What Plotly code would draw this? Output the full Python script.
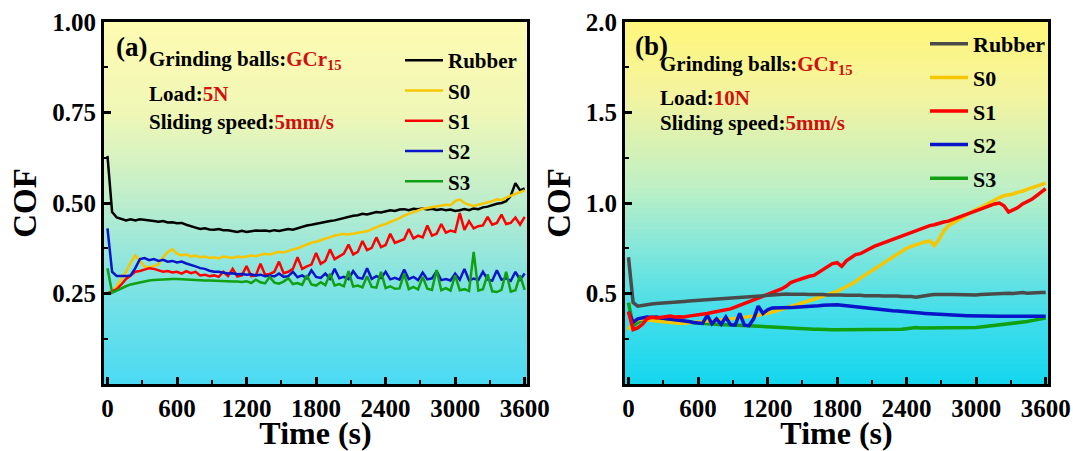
import plotly.graph_objects as go

# ---------------- data ----------------
time_s = list(range(0, 3601, 40))  # sampling times, 91 points

# panel (a): load 5 N
a_rubber = [0.63, 0.475, 0.46, 0.455, 0.452, 0.455, 0.452, 0.455, 0.454, 0.452,
            0.45, 0.448, 0.45, 0.446, 0.447, 0.444, 0.445, 0.44, 0.435, 0.432,
            0.428, 0.43, 0.427, 0.426, 0.428, 0.425, 0.425, 0.422, 0.42, 0.423,
            0.42, 0.422, 0.424, 0.423, 0.424, 0.422, 0.425, 0.423, 0.426, 0.428,
            0.426, 0.43, 0.435, 0.438, 0.44, 0.443, 0.445, 0.447, 0.45, 0.452,
            0.455, 0.46, 0.462, 0.465, 0.466, 0.47, 0.468, 0.472, 0.475, 0.474,
            0.478, 0.48, 0.478, 0.482, 0.483, 0.48, 0.484, 0.483, 0.485, 0.482,
            0.484, 0.481, 0.483, 0.48, 0.482, 0.478, 0.48, 0.483, 0.48, 0.485,
            0.483, 0.488, 0.49, 0.495, 0.498, 0.50, 0.505, 0.52, 0.555, 0.535,
            0.54]
a_s0 = [0.25, 0.255, 0.27, 0.29, 0.31, 0.335, 0.355, 0.34, 0.325, 0.322,
        0.325, 0.33, 0.35, 0.365, 0.372, 0.36, 0.355, 0.358, 0.352, 0.355,
        0.35, 0.352, 0.348, 0.35, 0.347, 0.352, 0.35, 0.348, 0.352, 0.35,
        0.352, 0.355, 0.353, 0.356, 0.36, 0.358, 0.362, 0.365, 0.363, 0.368,
        0.372, 0.375, 0.38, 0.386, 0.39, 0.393, 0.398, 0.402, 0.405, 0.41,
        0.412, 0.414, 0.413, 0.416, 0.418, 0.42, 0.422, 0.428, 0.432, 0.438,
        0.442, 0.447, 0.452, 0.458, 0.465, 0.47, 0.476, 0.48, 0.484, 0.486,
        0.488, 0.49, 0.492, 0.495, 0.494, 0.505, 0.51, 0.5, 0.495, 0.492,
        0.495, 0.498, 0.502, 0.505, 0.51, 0.508, 0.515, 0.52, 0.525, 0.528,
        0.535]
a_s1 = [0.25, 0.255, 0.262, 0.275, 0.29, 0.30, 0.31, 0.312, 0.315, 0.32,
        0.318, 0.315, 0.31, 0.312, 0.308, 0.31, 0.305, 0.312, 0.306, 0.31,
        0.30, 0.302, 0.298, 0.30, 0.296, 0.31, 0.298, 0.318, 0.297, 0.30,
        0.326, 0.298, 0.30, 0.332, 0.302, 0.304, 0.31, 0.338, 0.306, 0.31,
        0.318, 0.35, 0.318, 0.325, 0.33, 0.362, 0.332, 0.34, 0.372, 0.345,
        0.352, 0.36, 0.385, 0.358, 0.365, 0.395, 0.37, 0.376, 0.405, 0.378,
        0.384, 0.415, 0.39, 0.395, 0.40, 0.428, 0.402, 0.41, 0.405, 0.438,
        0.41, 0.415, 0.442, 0.418, 0.424, 0.42, 0.472, 0.426, 0.45, 0.43,
        0.436, 0.438, 0.462, 0.44, 0.445, 0.468, 0.442, 0.445, 0.46, 0.44,
        0.462]
a_s2 = [0.43, 0.31, 0.298, 0.297, 0.298, 0.30, 0.32, 0.345, 0.348, 0.342,
        0.345, 0.34, 0.343, 0.338, 0.34, 0.336, 0.338, 0.333, 0.33, 0.325,
        0.32, 0.318, 0.313, 0.31, 0.31, 0.307, 0.305, 0.306, 0.303, 0.304,
        0.302, 0.303, 0.30, 0.302, 0.298, 0.30, 0.297, 0.305, 0.296, 0.298,
        0.31, 0.295, 0.30, 0.292, 0.314, 0.296, 0.293, 0.305, 0.291, 0.318,
        0.292, 0.296, 0.29, 0.312, 0.294, 0.291, 0.32, 0.29, 0.298, 0.293,
        0.31, 0.289, 0.293, 0.288, 0.316, 0.29, 0.296, 0.287, 0.308, 0.289,
        0.292, 0.312, 0.287, 0.29, 0.286, 0.305, 0.288, 0.318, 0.286, 0.291,
        0.287, 0.31, 0.289, 0.285, 0.314, 0.288, 0.292, 0.285, 0.31, 0.288,
        0.305]
a_s3 = [0.32, 0.252, 0.258, 0.265, 0.27, 0.275, 0.278, 0.282, 0.284, 0.286,
        0.287, 0.288, 0.289, 0.29, 0.29, 0.29, 0.289, 0.289, 0.288, 0.288,
        0.287, 0.286, 0.286, 0.285, 0.285, 0.284, 0.284, 0.283, 0.283, 0.282,
        0.284, 0.279, 0.288, 0.281, 0.278, 0.296, 0.28, 0.277, 0.283, 0.292,
        0.276, 0.279, 0.274, 0.30, 0.275, 0.272, 0.281, 0.273, 0.305, 0.272,
        0.276, 0.27, 0.312, 0.269, 0.272, 0.267, 0.298, 0.268, 0.266, 0.31,
        0.265, 0.27, 0.263, 0.264, 0.305, 0.262, 0.268, 0.261, 0.296, 0.263,
        0.26, 0.315, 0.259, 0.265, 0.258, 0.30, 0.259, 0.262, 0.257, 0.365,
        0.258, 0.262, 0.303, 0.256, 0.254, 0.26, 0.31, 0.255, 0.259, 0.30,
        0.26]

# panel (b): load 10 N
b_rubber = [0.70, 0.45, 0.43, 0.435, 0.44, 0.442, 0.445, 0.446, 0.448, 0.45,
            0.452, 0.454, 0.456, 0.458, 0.46, 0.462, 0.464, 0.466, 0.468, 0.47,
            0.472, 0.474, 0.476, 0.478, 0.48, 0.482, 0.484, 0.486, 0.488, 0.49,
            0.492, 0.494, 0.495, 0.496, 0.497, 0.496, 0.497, 0.495, 0.496, 0.494,
            0.495, 0.493, 0.494, 0.492, 0.493, 0.49, 0.492, 0.49, 0.491, 0.489,
            0.49, 0.488, 0.489, 0.487, 0.488, 0.486, 0.487, 0.485, 0.486, 0.484,
            0.485, 0.483, 0.48, 0.485, 0.49, 0.492, 0.494, 0.493, 0.495, 0.494,
            0.495, 0.494, 0.492, 0.493, 0.49, 0.492, 0.494, 0.496, 0.495, 0.497,
            0.498, 0.50, 0.502, 0.50, 0.503, 0.505, 0.502, 0.504, 0.503, 0.505,
            0.505]
b_s0 = [0.30, 0.34, 0.355, 0.36, 0.355, 0.35, 0.348, 0.345, 0.342, 0.34,
        0.338, 0.335, 0.335, 0.338, 0.34, 0.342, 0.345, 0.347, 0.35, 0.352,
        0.355, 0.357, 0.36, 0.362, 0.365, 0.366, 0.37, 0.375, 0.38, 0.385,
        0.39, 0.398, 0.405, 0.412, 0.42, 0.43, 0.438, 0.445, 0.452, 0.46,
        0.468, 0.476, 0.485, 0.495, 0.505, 0.512, 0.525, 0.538, 0.552, 0.565,
        0.585, 0.60, 0.618, 0.632, 0.65, 0.668, 0.685, 0.70, 0.718, 0.735,
        0.75, 0.76, 0.77, 0.778, 0.785, 0.79, 0.765, 0.80, 0.845, 0.875,
        0.89, 0.91, 0.925, 0.94, 0.955, 0.965, 0.975, 0.99, 1.0, 1.015,
        1.03, 1.04, 1.045, 1.05, 1.06, 1.065, 1.075, 1.085, 1.095, 1.105,
        1.11]
b_s1 = [0.40, 0.30, 0.31, 0.33, 0.36, 0.37, 0.365, 0.37, 0.372, 0.375,
        0.37, 0.372, 0.37, 0.375, 0.378, 0.38, 0.385, 0.39, 0.395, 0.40,
        0.405, 0.41, 0.415, 0.425, 0.435, 0.44, 0.45, 0.46, 0.47, 0.48,
        0.49, 0.50, 0.515, 0.525, 0.54, 0.56, 0.57, 0.58, 0.59, 0.595,
        0.60, 0.615, 0.63, 0.65, 0.665, 0.67, 0.65, 0.68, 0.70, 0.715,
        0.72, 0.735, 0.75, 0.76, 0.77, 0.78, 0.79, 0.80, 0.81, 0.82,
        0.83, 0.84, 0.85, 0.86, 0.87, 0.875, 0.88, 0.89, 0.895, 0.90,
        0.91, 0.915, 0.925, 0.935, 0.945, 0.955, 0.965, 0.975, 0.985, 0.995,
        1.0, 0.985, 0.95, 0.96, 0.975, 0.995, 1.005, 1.02, 1.04, 1.06,
        1.08]
b_s2 = [0.40, 0.34, 0.36, 0.365, 0.37, 0.368, 0.37, 0.365, 0.362, 0.36,
        0.355, 0.35, 0.348, 0.345, 0.34, 0.338, 0.335, 0.38, 0.333, 0.36,
        0.33, 0.37, 0.328, 0.325, 0.39, 0.325, 0.322, 0.36, 0.43, 0.39,
        0.41, 0.42, 0.42, 0.418, 0.42, 0.422, 0.424, 0.425, 0.427, 0.428,
        0.43, 0.432, 0.435, 0.437, 0.44, 0.438, 0.435, 0.432, 0.43, 0.425,
        0.422, 0.42, 0.418, 0.415, 0.412, 0.41, 0.408, 0.405, 0.403, 0.40,
        0.398, 0.396, 0.394, 0.392, 0.39, 0.388, 0.386, 0.385, 0.384, 0.383,
        0.382, 0.38, 0.378, 0.377, 0.376, 0.375, 0.375, 0.375, 0.374, 0.374,
        0.374, 0.374, 0.374, 0.374, 0.375, 0.375, 0.375, 0.375, 0.375, 0.375,
        0.375]
b_s3 = [0.45, 0.32, 0.34, 0.355, 0.36, 0.358, 0.355, 0.352, 0.35, 0.348,
        0.345, 0.342, 0.34, 0.338, 0.336, 0.334, 0.332, 0.33, 0.33, 0.33,
        0.328, 0.328, 0.327, 0.326, 0.325, 0.325, 0.324, 0.323, 0.322, 0.32,
        0.318, 0.316, 0.314, 0.312, 0.31, 0.308, 0.306, 0.305, 0.304, 0.303,
        0.302, 0.302, 0.30, 0.30, 0.30, 0.30, 0.30, 0.30, 0.30, 0.30,
        0.30, 0.30, 0.30, 0.30, 0.30, 0.30, 0.301, 0.30, 0.30, 0.302,
        0.305, 0.31, 0.312, 0.31, 0.31, 0.312, 0.31, 0.31, 0.312, 0.31,
        0.31, 0.31, 0.312, 0.31, 0.31, 0.312, 0.315, 0.318, 0.32, 0.322,
        0.325, 0.328, 0.33, 0.333, 0.336, 0.34, 0.345, 0.35, 0.355, 0.36,
        0.365]

series_names = ["Rubber", "S0", "S1", "S2", "S3"]
x_ticks = [0, 600, 1200, 1800, 2400, 3000, 3600]
a_yticks = [0.25, 0.50, 0.75, 1.00]
b_yticks = [0.5, 1.0, 1.5, 2.0]

for s in (a_rubber, a_s0, a_s1, a_s2, a_s3, b_rubber, b_s0, b_s1, b_s2, b_s3):
    assert len(s) == len(time_s), len(s)

# ---------------- style ----------------
FONT = "Liberation Serif"
RED_TXT = "#d01010"
colors_a = ["#000000", "#f7c600", "#ff0000", "#0a14c8", "#11a011"]
colors_b = ["#4a4a4a", "#f7c600", "#ff0000", "#0a14c8", "#11a011"]

W, H = 1073, 451
ML, MR, MT, MB = 104, 25, 22, 67
PW, PH = W - ML - MR, H - MT - MB


def px(xp):
    return (xp - ML) / PW


def py(yp):
    return (H - MB - yp) / PH


fig = go.Figure()

# panel (a) traces
for i, (name, vals) in enumerate(zip(series_names, [a_rubber, a_s0, a_s1, a_s2, a_s3])):
    fig.add_trace(go.Scatter(x=time_s, y=vals, mode="lines", name=name,
                             line=dict(color=colors_a[i], width=2.5),
                             xaxis="x", yaxis="y", legend="legend",
                             legendgroup="a" + name, legendrank=i + 1))

# panel (b) traces (drawing order differs from legend order)
b_vals = dict(zip(series_names, [b_rubber, b_s0, b_s1, b_s2, b_s3]))
for name in ["S3", "S0", "S2", "S1", "Rubber"]:
    i = series_names.index(name)
    fig.add_trace(go.Scatter(x=time_s, y=b_vals[name], mode="lines", name=name,
                             line=dict(color=colors_b[i], width=3.5),
                             xaxis="x2", yaxis="y2", legend="legend2",
                             legendgroup="b" + name, legendrank=i + 1))


# gradient backgrounds (yellow -> green -> cyan)
def lerp_color(stops, f):
    for (f0, c0), (f1, c1) in zip(stops[:-1], stops[1:]):
        if f0 <= f <= f1:
            t = (f - f0) / (f1 - f0) if f1 > f0 else 0
            return "rgb(%d,%d,%d)" % tuple(round(a + (b - a) * t) for a, b in zip(c0, c1))
    return "rgb(%d,%d,%d)" % stops[-1][1]


stops_a = [(0.0, (254, 251, 178)), (0.25, (240, 247, 182)), (0.45, (200, 240, 200)),
           (0.6, (160, 232, 216)), (0.8, (110, 224, 232)), (1.0, (75, 218, 242))]
stops_b = [(0.0, (255, 246, 122)), (0.2, (244, 244, 160)), (0.45, (192, 240, 196)),
           (0.6, (140, 232, 216)), (0.8, (70, 222, 234)), (1.0, (20, 214, 238))]

shapes = []
NB = 72
for xr, yr, stops in (("x domain", "y domain", stops_a), ("x2 domain", "y2 domain", stops_b)):
    for k in range(NB):
        y1 = 1 - k / NB
        y0 = 1 - (k + 1) / NB
        c = lerp_color(stops, (k + 0.5) / NB)
        shapes.append(dict(type="rect", xref=xr, yref=yr, x0=0, x1=1, y0=y0 - 0.002, y1=y1,
                           fillcolor=c, line=dict(width=0), layer="below"))

tickfont = dict(family=FONT, size=25, color="black", weight="bold")
titlefont = dict(family=FONT, size=32, color="black", weight="bold")

common_x = dict(range=[-30, 3620], tickvals=x_ticks, ticks="inside", ticklen=7, tickwidth=3,
                tickcolor="black", showline=True, linewidth=3, linecolor="black", mirror=True,
                showgrid=False, zeroline=False, tickfont=tickfont, automargin=False,
                minor=dict(dtick=300, tick0=0, ticks="inside", ticklen=4, tickwidth=2, tickcolor="black"),
                title=dict(text="Time (s)", font=titlefont, standoff=14))
common_y = dict(ticks="inside", ticklen=7, tickwidth=3, tickcolor="black", showline=True,
                linewidth=3, linecolor="black", mirror=True, showgrid=False, zeroline=False,
                tickfont=tickfont, automargin=False,
                title=dict(text="COF", font=dict(family=FONT, size=33, color="black", weight="bold"),
                           standoff=6))

fig.update_layout(
    width=W, height=H, margin=dict(l=ML, r=MR, t=MT, b=MB, autoexpand=False),
    paper_bgcolor="white", plot_bgcolor="white",
    xaxis=dict(domain=[0, px(527)], anchor="y", **common_x),
    yaxis=dict(domain=[0, 1], anchor="x", range=[0, 1], tickvals=a_yticks, tickformat=".2f",
               minor=dict(tickvals=[0.125, 0.375, 0.625, 0.875], ticks="inside", ticklen=4,
                          tickwidth=2, tickcolor="black"), **common_y),
    xaxis2=dict(domain=[px(625), 1], anchor="y2", **common_x),
    yaxis2=dict(domain=[0, 1], anchor="x2", range=[0, 2], tickvals=b_yticks, tickformat=".1f",
                minor=dict(tickvals=[0.25, 0.75, 1.25, 1.75], ticks="inside", ticklen=4,
                           tickwidth=2, tickcolor="black"), **common_y),
    shapes=shapes,
    showlegend=True,
    legend=dict(x=px(400), y=py(40), xanchor="left", yanchor="top", bgcolor="rgba(0,0,0,0)",
                font=dict(family=FONT, size=21, color="black", weight="bold"),
                itemwidth=38, traceorder="grouped", tracegroupgap=0),
    legend2=dict(x=px(925), y=py(23), xanchor="left", yanchor="top", bgcolor="rgba(0,0,0,0)",
                 font=dict(family=FONT, size=22, color="black", weight="bold"),
                 itemwidth=38, traceorder="grouped", tracegroupgap=2),
)

ann_font = dict(family=FONT, size=21, color="black", weight="bold")
panel_font = dict(family=FONT, size=27, color="black", weight="bold")


def add_text(text, xp, yp, font):
    fig.add_annotation(text=text, x=px(xp), y=py(yp), xref="paper", yref="paper",
                       xanchor="left", yanchor="middle", showarrow=False, font=font)


# panel (a) labels
add_text("(a)", 114, 47, panel_font)
add_text("Grinding balls:<span style='color:%s'>GCr<sub>15</sub></span>" % RED_TXT, 147, 60, ann_font)
add_text("Load:<span style='color:%s'>5N</span>" % RED_TXT, 147, 94, ann_font)
add_text("Sliding speed:<span style='color:%s'>5mm/s</span>" % RED_TXT, 147, 122, ann_font)
# panel (b) labels
add_text("(b)", 633, 46, panel_font)
add_text("Grinding balls:<span style='color:%s'>GCr<sub>15</sub></span>" % RED_TXT, 658, 65, ann_font)
add_text("Load:<span style='color:%s'>10N</span>" % RED_TXT, 658, 98, ann_font)
add_text("Sliding speed:<span style='color:%s'>5mm/s</span>" % RED_TXT, 658, 123, ann_font)

fig.write_html("out.html")
